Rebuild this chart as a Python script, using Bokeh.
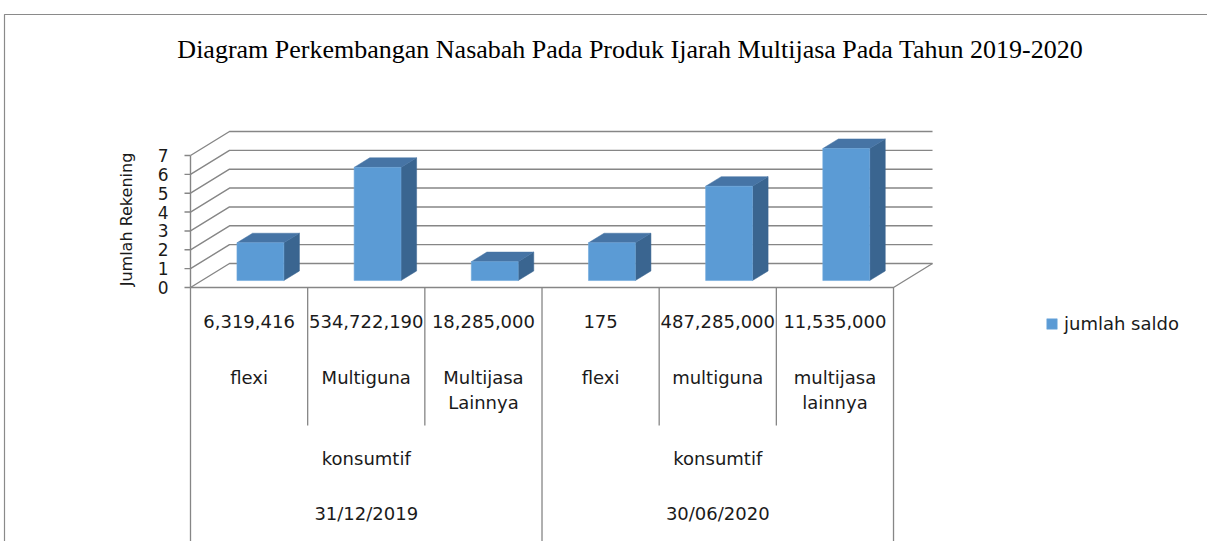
import math
from bokeh.plotting import figure
from bokeh.models import Range1d, Label, Legend, LegendItem
from bokeh.embed import file_html
from bokeh.resources import INLINE
from bokeh.core.properties import value

# ---------------- data ----------------
chart_title = "Diagram Perkembangan Nasabah Pada Produk Ijarah Multijasa Pada Tahun  2019-2020"
y_title = "Jumlah Rekening"
series_name = "jumlah saldo"
periods = ["31/12/2019", "30/06/2020"]
segments = ["konsumtif", "konsumtif"]
products = ["flexi", "Multiguna", "Multijasa\nLainnya", "flexi", "multiguna", "multijasa\nlainnya"]
saldo = ["6,319,416", "534,722,190", "18,285,000", "175", "487,285,000", "11,535,000"]
jumlah_rekening = [2, 6, 1, 2, 5, 7]
y_ticks = [0, 1, 2, 3, 4, 5, 6, 7]

# ---------------- layout ----------------
W, H = 1207, 541
X0_PX, CAT_PX = 190.0, 117.17      # front-left corner of floor, px per category
Y0_PX, UNIT_PX = 287.0, 18.857     # floor line (from top), px per unit
DX = 39.0 / CAT_PX                  # depth offset in x units
DY = 24.0 / UNIT_PX                 # depth offset in y units
D0, D1 = 0.29, 0.69                 # bar depth (front/back)
BAR_W = 0.40

n = len(jumlah_rekening)
per_group = n // len(periods)

def xd(px):   # figure px (from left) -> data x
    return (px - X0_PX) / CAT_PX

def yd(py):   # figure px (from top) -> data y
    return (Y0_PX - py) / UNIT_PX

p = figure(width=W, height=H, output_backend="svg", toolbar_location=None,
           x_range=Range1d(xd(0), xd(W)), y_range=Range1d(yd(H), yd(0)),
           min_border=0, outline_line_color=None)
p.axis.visible = False
p.grid.visible = False
p.background_fill_color = "white"
p.border_fill_color = "white"

GRID = "#868686"
FONT = value("DejaVu Sans")
TXT = "#1a1a1a"

# chart border (top & left)
p.line([xd(4), xd(4), xd(W)], [yd(H), yd(14), yd(14)], line_color="#8a8a8a", line_width=1.2)

# back wall + side wall gridlines
gx, gy = [], []
for k in y_ticks:
    gx.append([0, DX, n + DX])
    gy.append([k, k + DY, k + DY])
p.multi_line(gx, gy, line_color=GRID, line_width=1.4)

# front value axis + ticks
top = max(y_ticks)
p.line([0, 0], [0, top], line_color=GRID, line_width=1.4)
p.multi_line([[xd(X0_PX - 6), 0] for _ in y_ticks], [[k, k] for k in y_ticks],
             line_color=GRID, line_width=1.4)

# floor edges
p.line([0, n, n + DX], [0, 0, DY], line_color=GRID, line_width=1.3)

# category separators (table)
sx, sy = [], []
inner_bottom = yd(Y0_PX + 138)
for i in range(n + 1):
    sx.append([i, i])
    sy.append([0, yd(H) if i % per_group == 0 else inner_bottom])
p.multi_line(sx, sy, line_color=GRID, line_width=1.3)

# ---------------- 3D bars ----------------
FRONT, TOPC, SIDE = "#5b9bd5", "#4674a5", "#3a6590"
lft, rgt, bot, tp = [], [], [], []
side_x, side_y, top_x, top_y = [], [], [], []
for i, v in enumerate(jumlah_rekening):
    l0 = i + 0.5 - BAR_W / 2 + D0 * DX
    r0 = i + 0.5 + BAR_W / 2 + D0 * DX
    b0 = D0 * DY
    t0 = v + D0 * DY
    ddx, ddy = (D1 - D0) * DX, (D1 - D0) * DY
    lft.append(l0); rgt.append(r0); bot.append(b0); tp.append(t0)
    side_x.append([r0, r0 + ddx, r0 + ddx, r0])
    side_y.append([b0, b0 + ddy, t0 + ddy, t0])
    top_x.append([l0, r0, r0 + ddx, l0 + ddx])
    top_y.append([t0, t0, t0 + ddy, t0 + ddy])

p.patches(side_x, side_y, fill_color=SIDE, line_color=SIDE, line_width=0.5)
p.patches(top_x, top_y, fill_color=TOPC, line_color=TOPC, line_width=0.5)
bars = p.quad(left=lft, right=rgt, bottom=bot, top=tp, fill_color=FRONT,
              line_color="#6fa8dc", line_width=0.6)

# ---------------- texts ----------------
# y tick labels
p.text(x=[xd(X0_PX - 22)] * len(y_ticks), y=y_ticks, text=[str(k) for k in y_ticks],
       text_align="right", text_baseline="middle", text_font=FONT,
       text_font_size="17px", text_color=TXT)

# y axis title
p.text(x=[xd(126)], y=[yd(219)], text=[y_title], angle=math.pi / 2,
       text_align="center", text_baseline="middle", text_font=FONT,
       text_font_size="16px", text_color=TXT)

centers = [i + 0.5 for i in range(n)]
TS = "18px"
# saldo row
p.text(x=centers, y=[yd(Y0_PX + 34)] * n, text=saldo, text_align="center",
       text_baseline="middle", text_font=FONT, text_font_size=TS, text_color=TXT)
# product rows (possibly two lines)
l1, l2 = [], []
for s in products:
    parts = s.split("\n")
    l1.append(parts[0])
    l2.append(parts[1] if len(parts) > 1 else "")
p.text(x=centers, y=[yd(Y0_PX + 90)] * n, text=l1, text_align="center",
       text_baseline="middle", text_font=FONT, text_font_size=TS, text_color=TXT)
p.text(x=centers, y=[yd(Y0_PX + 115)] * n, text=l2, text_align="center",
       text_baseline="middle", text_font=FONT, text_font_size=TS, text_color=TXT)
gcenters = [g * per_group + per_group / 2 for g in range(len(periods))]
p.text(x=gcenters, y=[yd(Y0_PX + 171)] * len(segments), text=segments, text_align="center",
       text_baseline="middle", text_font=FONT, text_font_size=TS, text_color=TXT)
p.text(x=gcenters, y=[yd(Y0_PX + 226)] * len(periods), text=periods, text_align="center",
       text_baseline="middle", text_font=FONT, text_font_size=TS, text_color=TXT)

# title
p.add_layout(Label(x=633, y=H - 49, x_units="screen", y_units="screen", text=chart_title,
                   text_align="center", text_baseline="middle",
                   text_font="Liberation Serif", text_font_size="26px", text_color="#000000"))

# legend
legend = Legend(items=[LegendItem(label=series_name, renderers=[bars])],
                location=(1045, H - 334), orientation="vertical",
                glyph_width=13, glyph_height=13, label_height=13, label_standoff=6,
                padding=0, margin=0, spacing=0,
                border_line_color=None, background_fill_alpha=0,
                label_text_font="DejaVu Sans", label_text_font_size="18px",
                label_text_color=TXT, label_text_baseline="middle")
p.add_layout(legend, "center")

open("out.html", "w").write(file_html(p, INLINE))
